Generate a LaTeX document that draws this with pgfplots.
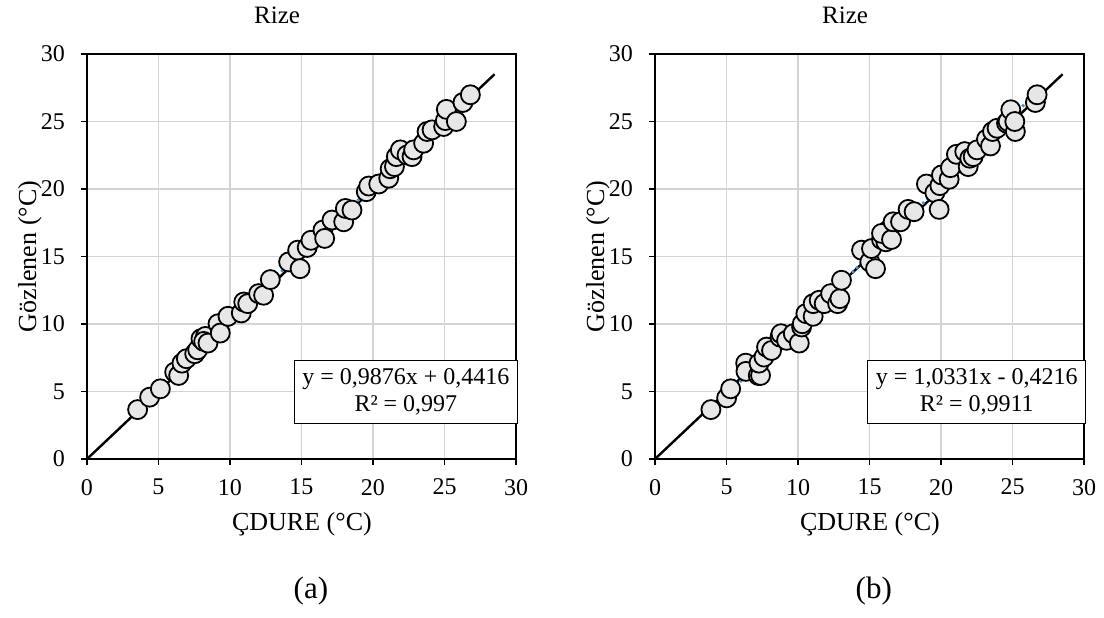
\documentclass[border=0pt]{standalone}
\usepackage{fontspec}
\setmainfont{Liberation Serif}
\usepackage{pgfplots}
\usepackage{pgfplotstable}
\pgfplotsset{compat=1.18}
\definecolor{gridc}{HTML}{D4D4D4}
\definecolor{markfill}{HTML}{E7E7E7}
\definecolor{trend}{HTML}{4A90D9}

\pgfplotstableread{
x y
3.54 3.66
4.38 4.58
5.13 5.20
6.13 6.44
6.41 6.19
6.64 7.10
6.95 7.43
7.53 7.80
7.74 8.09
7.97 8.91
8.28 9.08
8.16 8.71
8.46 8.59
9.16 10.02
9.32 9.33
9.86 10.57
10.79 10.82
10.96 11.63
11.24 11.51
12.00 12.25
12.35 12.13
12.82 13.29
14.10 14.60
14.73 15.47
14.90 14.10
15.40 15.67
15.66 16.20
16.50 16.96
16.62 16.34
17.13 17.70
17.95 17.57
18.07 18.56
18.53 18.44
19.53 19.80
19.70 20.22
20.40 20.37
21.10 20.80
21.20 21.50
21.50 21.66
21.63 22.40
21.91 22.90
22.38 22.52
22.73 22.40
22.84 22.90
23.54 23.39
23.78 24.26
24.13 24.38
24.94 24.63
25.06 25.07
25.13 25.90
25.83 25.00
26.29 26.41
26.81 26.98
}\dataA

\pgfplotstableread{
x y
3.91 3.66
5.01 4.53
5.29 5.20
6.34 7.10
6.36 6.49
7.22 6.19
7.38 6.19
7.27 7.10
7.62 7.55
7.80 8.29
8.15 8.04
8.74 9.03
8.81 9.28
9.20 8.79
9.67 9.28
10.09 8.59
10.25 9.78
10.30 10.02
10.55 10.77
11.06 10.57
11.06 11.51
11.48 11.76
11.83 11.51
12.28 12.25
12.77 11.51
12.93 11.88
13.04 13.24
14.44 15.47
15.02 14.60
15.14 15.59
15.42 14.10
15.84 16.26
16.14 16.09
16.31 16.96
15.84 16.71
16.54 16.26
16.65 17.57
17.17 17.57
17.70 18.49
18.12 18.32
18.98 20.37
19.57 19.73
19.87 18.49
19.92 20.25
20.03 21.04
20.57 20.72
20.66 21.58
21.08 22.57
21.66 22.77
21.90 21.66
22.01 22.28
22.25 22.40
22.52 22.90
23.18 23.69
23.46 23.19
23.60 24.26
23.92 24.50
24.58 24.88
24.69 25.00
24.88 25.87
25.20 24.26
25.16 25.00
26.60 26.41
26.72 26.98
}\dataB

\pgfplotsset{
  scatterstyle/.style={only marks, mark=*, mark size=4.75pt,
    mark options={fill=markfill, draw=black, line width=0.9pt}},
  trendstyle/.style={trend, line width=1.4pt, line cap=butt, dash pattern=on 1.3pt off 1.6pt},
  mystyle/.style={
  scale only axis, width=214.5pt, height=202.5pt,
  xmin=0, xmax=30, ymin=0, ymax=30,
  xtick={0,5,...,30}, ytick={0,5,...,30},
  xmajorgrids=true, ymajorgrids=true,
  every axis grid/.style={draw=gridc, line width=0.6pt},
  major grid style={draw=gridc, line width=0.6pt},
  axis line style={black, line width=0.7pt},
  tick align=outside, tick pos=left, major tick length=3pt,
  major tick style={black, line width=0.7pt},
  /pgf/number format/assume math mode=true,
  ticklabel style={font=\fontsize{12}{14}\selectfont},
  xticklabel style={yshift=-3.5pt},
  yticklabel style={xshift=-4.5pt},
  clip=false,
  xlabel={ÇDURE (°C)}, ylabel={Gözlenen (°C)},
  every axis x label/.style={at={(axis description cs:0.501,-0.16)},anchor=center,font=\fontsize{13}{15}\selectfont},
  every axis y label/.style={at={(axis description cs:-0.133,0.5)},anchor=center,rotate=90,font=\fontsize{13}{15}\selectfont},
  title={Rize},
  every axis title/.style={at={(axis description cs:0.443,1.096)},anchor=center,font=\fontsize{12.5}{15}\selectfont},
}}

\begin{document}
\begin{tikzpicture}
\path[use as bounding box] (0,0) rectangle (552pt,308.5pt);

\begin{axis}[mystyle, at={(43.5pt,79pt)}, anchor=south west]
\addplot[black, line width=1.2pt] coordinates {(0,0) (28.5,28.5)};
\addplot[scatterstyle] table[x=x,y=y] {\dataA};
\addplot[trendstyle] coordinates {(3.5,3.898) (26.8,26.909)};
\node[draw=black, line width=0.6pt, fill=white, align=center, inner sep=0pt,
  minimum width=111.7pt, minimum height=31.3pt,
  font=\fontsize{12}{13.3}\selectfont] at (axis cs:22.3,4.96)
  {y = 0,9876x + 0,4416\\R² = 0,997};
\node[font=\fontsize{15.5}{18}\selectfont] at (axis description cs:0.522,-0.326) {(a)};
\end{axis}

\begin{axis}[mystyle, at={(327.5pt,79pt)}, anchor=south west]
\addplot[black, line width=1.2pt] coordinates {(0,0) (28.5,28.5)};
\addplot[scatterstyle] table[x=x,y=y] {\dataB};
\addplot[trendstyle] coordinates {(3.9,3.607) (26.7,27.162)};
\node[draw=black, line width=0.6pt, fill=white, align=center, inner sep=0pt,
  minimum width=109pt, minimum height=31.3pt,
  font=\fontsize{12}{13.3}\selectfont] at (axis cs:22.5,4.96)
  {y = 1,0331x - 0,4216\\R² = 0,9911};
\node[font=\fontsize{15.5}{18}\selectfont] at (axis description cs:0.51,-0.326) {(b)};
\end{axis}
\end{tikzpicture}
\end{document}
